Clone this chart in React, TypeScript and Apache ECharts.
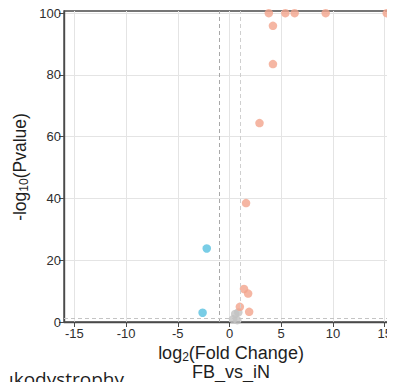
import React, { useEffect, useRef } from "react";
import * as echarts from "echarts";

// Volcano plot: FB vs iN differential expression
const upX = [3.8, 5.4, 6.3, 9.3, 15.2, 4.2, 4.2, 2.9, 1.6, 1.4, 1.8, 1.0, 1.9];
const upY = [100, 100, 100, 100, 100, 95.9, 83.5, 64.4, 38.5, 10.7, 9.2, 4.9, 3.3];
const downX = [-2.2, -2.6];
const downY = [23.8, 3.0];
const nsX = [0.55, 0.85, 0.35, 0.75];
const nsY = [2.6, 3.1, 0.9, 0.6];

const xTicks = [-15, -10, -5, 0, 5, 10, 15];
const yTicks = [0, 20, 40, 60, 80, 100];
const fcCutoffs = [-1, 1];
const pCutoff = 1.3;

const FONT = "'Liberation Sans', Arial, sans-serif";

const zip = (xs: number[], ys: number[]) => xs.map((x, i) => [x, ys[i]]);

export default function App() {
  const ref = useRef<HTMLDivElement>(null);

  useEffect(() => {
    if (!ref.current) return;
    const chart = echarts.init(ref.current, undefined, { renderer: "svg" });
    const dot = { symbol: "circle", symbolSize: 8.5, clip: false };
    chart.setOption({
      animation: false,
      backgroundColor: "#ffffff",
      grid: {
        left: 64,
        right: -2,
        top: 11,
        bottom: 68,
        show: true,
        backgroundColor: "#ffffff",
        borderColor: "#4a4a4a",
        borderWidth: 1.4,
      },
      xAxis: {
        type: "value",
        min: -16,
        max: 16,
        axisLine: { show: true, onZero: false, lineStyle: { color: "#4a4a4a", width: 1.4 } },
        axisTick: { show: true, length: 5, customValues: xTicks, lineStyle: { color: "#4a4a4a" } },
        axisLabel: { customValues: xTicks, fontSize: 13, color: "#2e2e2e", fontFamily: FONT, margin: 5 },
        splitLine: { show: true, lineStyle: { color: "#e4e4e4", width: 1 } },
      },
      yAxis: {
        type: "value",
        min: 0,
        max: 100.7,
        axisLine: { show: true, onZero: false, lineStyle: { color: "#4a4a4a", width: 1.4 } },
        axisTick: { show: true, length: 5, customValues: yTicks, lineStyle: { color: "#4a4a4a" } },
        axisLabel: { customValues: yTicks, fontSize: 13, color: "#2e2e2e", fontFamily: FONT, margin: 3 },
        splitLine: { show: true, lineStyle: { color: "#e4e4e4", width: 1 } },
      },
      series: [
        {
          type: "scatter",
          ...dot,
          data: zip(nsX, nsY),
          itemStyle: { color: "#c2c2c2" },
          z: 3,
          markLine: {
            silent: true,
            symbol: "none",
            label: { show: false },
            data: [
              { xAxis: fcCutoffs[0], lineStyle: { color: "#a8a8a8", type: [4, 3], width: 1 } },
              { xAxis: fcCutoffs[1], lineStyle: { color: "#cfcfcf", type: [4, 3], width: 1 } },
              { yAxis: pCutoff, lineStyle: { color: "#c4c4c4", type: [4, 3], width: 1 } },
            ],
          },
        },
        {
          type: "scatter",
          ...dot,
          data: zip(downX, downY),
          itemStyle: { color: "#58c0e0" },
          z: 4,
        },
        {
          type: "scatter",
          ...dot,
          data: zip(upX, upY),
          itemStyle: { color: "#f2a48c" },
          z: 4,
        },
      ],
      graphic: [
        {
          type: "text",
          x: 231,
          y: 353,
          style: {
            text: "log{s|2}(Fold Change)",
            fill: "#1e1e1e",
            font: `18px ${FONT}`,
            textAlign: "center",
            textVerticalAlign: "middle",
            rich: {
              s: { fontSize: 12, fontFamily: FONT, fill: "#1e1e1e", padding: [8, 0, 0, 0] },
            },
          },
        },
        {
          type: "text",
          x: 231,
          y: 372,
          style: {
            text: "FB_vs_iN",
            fill: "#1e1e1e",
            font: `18px ${FONT}`,
            textAlign: "center",
            textVerticalAlign: "middle",
          },
        },
        {
          type: "text",
          x: 20,
          y: 167,
          rotation: Math.PI / 2,
          style: {
            text: "-log{s|10}(Pvalue)",
            fill: "#1e1e1e",
            font: `17.5px ${FONT}`,
            textAlign: "center",
            textVerticalAlign: "middle",
            rich: {
              s: { fontSize: 12, fontFamily: FONT, fill: "#1e1e1e", padding: [8, 0, 0, 0] },
            },
          },
        },
        {
          type: "text",
          x: 2,
          y: 388,
          style: {
            text: "ukodystrophy",
            fill: "#1e1e1e",
            font: `19px 'Open Sans', 'Noto Sans', sans-serif`,
            textAlign: "left",
            textVerticalAlign: "bottom",
          },
        },
      ],
    });
    return () => chart.dispose();
  }, []);

  return <div ref={ref} style={{ width: 395, height: 390, margin: -8 }} />;
}
